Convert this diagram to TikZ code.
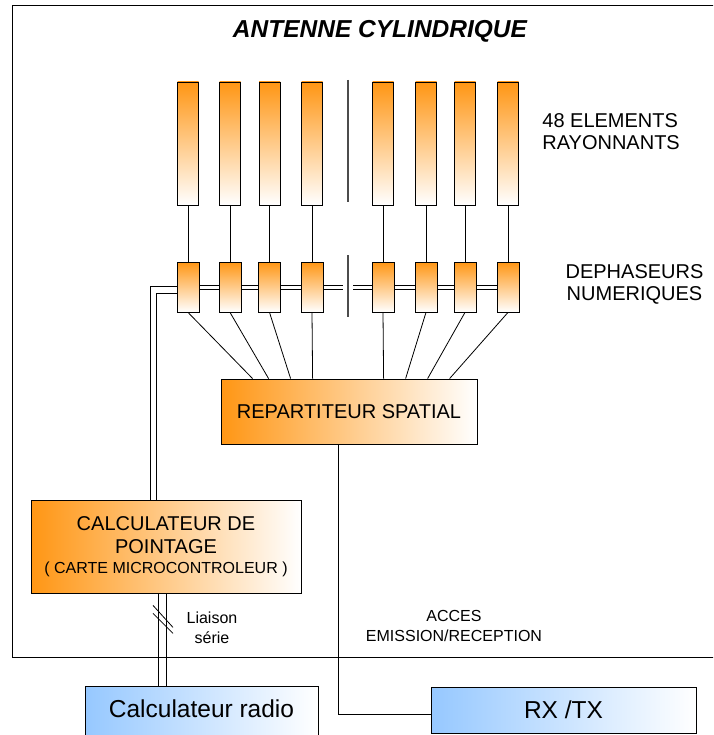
\documentclass[tikz,border=0pt]{standalone}
\usepackage{fontspec}
\setmainfont{Liberation Sans}
\usetikzlibrary{calc}
\definecolor{orng}{RGB}{255,150,20}
\definecolor{bleu}{RGB}{150,200,255}
\tikzset{
  elem/.style={draw, line width=0.8pt, top color=orng, bottom color=white,
    minimum width=21pt, minimum height=123pt, inner sep=0pt},
  dephas/.style={draw, line width=0.8pt, top color=orng, bottom color=white,
    minimum width=22pt, minimum height=50pt, inner sep=0pt},
  bloc/.style={draw, line width=0.8pt, left color=orng, right color=white,
    inner sep=0pt, align=center, font=\fontsize{20}{23}\selectfont},
  bbloc/.style={draw, line width=0.8pt, left color=bleu, right color=white,
    inner sep=0pt, font=\fontsize{24.5}{28}\selectfont},
  lbl/.style={inner sep=0pt, font=\fontsize{20}{22}\selectfont},
  petit/.style={inner sep=0pt, align=center, font=\fontsize{16}{20}\selectfont},
}
\begin{document}
\begin{tikzpicture}[x=1pt, y=-1pt, line width=0.8pt]
  \useasboundingbox (0,0) rectangle (713,735);
  \clip (0,0) rectangle (713,735);
  % cadre antenne
  \draw (720,5) -- (12,5) -- (12,657) -- (720,657);
  \node[font=\bfseries\itshape\fontsize{24.5}{28}\selectfont] (titre) at (380,31) {ANTENNE CYLINDRIQUE};
  % elements rayonnants
  \node[elem] (e1) at (188,143.5) {};
  \node[elem] (e2) at (230,143.5) {};
  \node[elem] (e3) at (269.5,143.5) {};
  \node[elem] (e4) at (312,143.5) {};
  \node[elem] (e5) at (383,143.5) {};
  \node[elem] (e6) at (426,143.5) {};
  \node[elem] (e7) at (465,143.5) {};
  \node[elem] (e8) at (508,143.5) {};
  % dephaseurs
  \node[dephas] (p1) at (188,287) {};
  \node[dephas] (p2) at (230,287) {};
  \node[dephas] (p3) at (269.5,287) {};
  \node[dephas] (p4) at (312,287) {};
  \node[dephas] (p5) at (383,287) {};
  \node[dephas] (p6) at (426,287) {};
  \node[dephas] (p7) at (465,287) {};
  \node[dephas] (p8) at (508,287) {};
  \node[lbl, anchor=west, align=left] (rayon) at (542,131.5) {48 ELEMENTS\\RAYONNANTS};
  \node[lbl, align=center] (numer) at (634.5,284) {DEPHASEURS\\NUMERIQUES};
  % blocs
  \node[bloc, minimum width=256pt, minimum height=65pt] (rep) at (349,411.5) {REPARTITEUR SPATIAL};
  \node[bloc, minimum width=270pt, minimum height=93pt] (cp) at (166,546.5)
    {CALCULATEUR DE\\POINTAGE\\[-3pt]{\fontsize{16}{20}\selectfont ( CARTE MICROCONTROLEUR )}};
  \node[bbloc, minimum width=233pt, text height=31pt, text depth=28pt, anchor=north] (cr) at (201.5,686) {Calculateur radio};
  \node[bbloc, minimum width=265pt, minimum height=46pt] (rx) at (563.5,710) {RX /TX};
  \node[petit] (liaison) at (212,628) {Liaison\\série};
  \node[petit] (acces) at (454,626) {ACCES\\EMISSION/RECEPTION};
  % coupures
  \coordinate (g) at (343,287);
  \coordinate (d) at (353,287);
  \draw[gray!60!black, line width=1.2pt] (348,80) -- (348,202);
  \draw[gray!60!black, line width=1.2pt] (348,255) -- (348,317);
  \begin{scope}[-]
    \draw (e1) -- (p1);
    \draw (e2) -- (p2);
    \draw (e3) -- (p3);
    \draw (e4) -- (p4);
    \draw (e5) -- (p5);
    \draw (e6) -- (p6);
    \draw (e7) -- (p7);
    \draw (e8) -- (p8);
    \draw (p1.south) -- ($(rep.north west)+(32,0)$);
    \draw (p2.south) -- ($(rep.north west)+(48,0)$);
    \draw (p3.south) -- ($(rep.north west)+(70,0)$);
    \draw (p4.south) -- ($(rep.north west)+(92,0)$);
    \draw (p5.south) -- ($(rep.north west)+(163,0)$);
    \draw (p6.south) -- ($(rep.north west)+(185,0)$);
    \draw (p7.south) -- ($(rep.north west)+(207,0)$);
    \draw (p8.south) -- ($(rep.north west)+(229,0)$);
    % bus des dephaseurs (liaison double)
    \foreach \a/\b in {p1/p2, p2/p3, p3/p4, p5/p6, p6/p7, p7/p8}
      \foreach \dy in {-2,2}
        \draw[line width=0.7pt] ($(\a.east)+(0,\dy)$) -- ($(\b.west)+(0,\dy)$);
    \draw[line width=0.7pt] ($(p4.east)+(0,-2)$) -- ($(g)+(0,-2)$);
    \draw[line width=0.7pt] ($(p4.east)+(0,2)$) -- ($(g)+(0,2)$);
    \draw[line width=0.7pt] ($(d)+(0,-2)$) -- ($(p5.west)+(0,-2)$);
    \draw[line width=0.7pt] ($(d)+(0,2)$) -- ($(p5.west)+(0,2)$);
    \draw[line width=0.7pt] ($(p1.west)+(0,-1)$) -| ($(cp.north)+(-16,0)$);
    \draw[line width=0.7pt] ($(p1.west)+(0,6)$) -| ($(cp.north)+(-10,0)$);
    % liaison serie
    \draw ($(cp.south)+(-8,0)$) coordinate (s0) -- (s0 |- cr.north);
    \draw (cp.south) -- (cp.south |- cr.north);
    \draw ($(s0)+(-5,12)$) -- ++(20,22);
    \draw ($(s0)+(-5,20)$) -- ++(20,20);
    \draw ($(rep.south)+(-11,0)$) |- ($(rx.west)+(0,4)$);
  \end{scope}
\end{tikzpicture}
\end{document}
